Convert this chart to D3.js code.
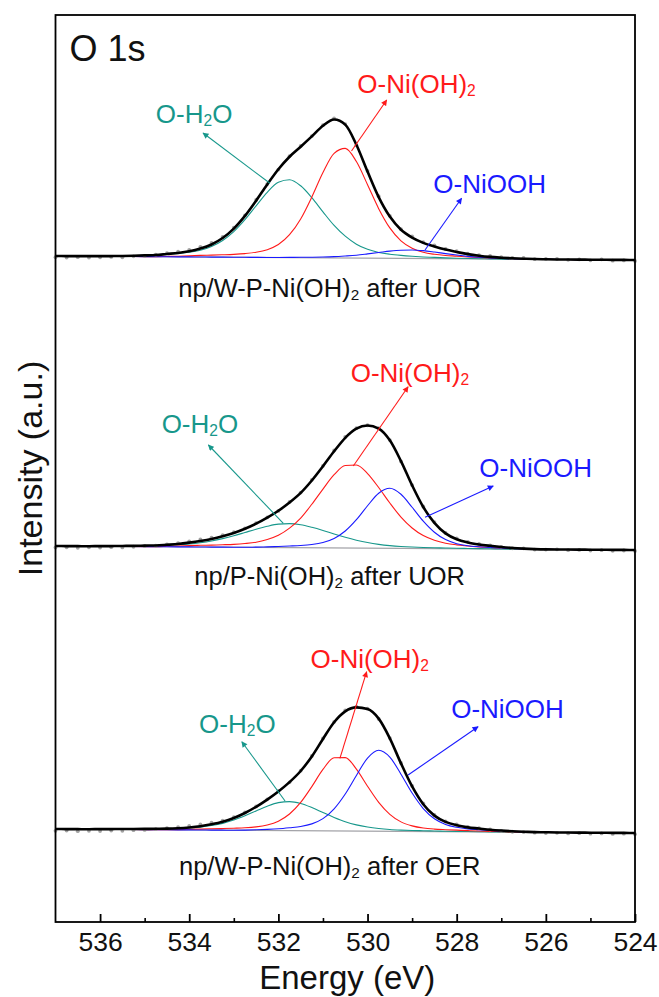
<!DOCTYPE html>
<html>
<head>
<meta charset="utf-8">
<script src="https://cdn.jsdelivr.net/npm/d3@7"></script>
<style>
  body { margin: 0; background: #fff; }
  svg { display: block; }
  text { font-family: "Liberation Sans", Arial, Helvetica, sans-serif; }
</style>
</head>
<body>
<svg id="chart" width="659" height="997"></svg>
<script>
// ---- O 1s XPS data (binding energy in eV, intensity in a.u.) ----
const energy = [
  537, 536.75, 536.5, 536.25, 536, 535.75, 535.5, 535.25,
  535, 534.75, 534.5, 534.25, 534, 533.75, 533.5, 533.25,
  533, 532.75, 532.5, 532.25, 532, 531.75, 531.5, 531.25,
  531, 530.75, 530.5, 530.25, 530, 529.75, 529.5, 529.25,
  529, 528.75, 528.5, 528.25, 528, 527.75, 527.5, 527.25,
  527, 526.75, 526.5, 526.25, 526, 525.75, 525.5, 525.25,
  525, 524.75, 524.5, 524.25, 524
];

const sampleNames = [
  "np/W-P-Ni(OH)₂ after UOR",
  "np/P-Ni(OH)₂ after UOR",
  "np/W-P-Ni(OH)₂ after OER"
];
const componentNames = ["O-H₂O", "O-Ni(OH)₂", "O-NiOOH"];

// Linear background: intensity at 537 eV above the 524 eV level
const backgroundRise = [4, 4, 4];

// np/W-P-Ni(OH)2 after UOR
const wpUor_H2O = [
  0, 0, 0, 0.1, 0.2, 0.3, 0.5, 0.8,
  1.2, 1.7, 2.5, 3.3, 4.6, 6.8, 10.6, 16.7,
  25.7, 37.7, 51.6, 65.2, 75.2, 77.8, 71.9, 60.1,
  46.0, 32.5, 21.8, 13.9, 8.8, 5.8, 4.1, 3.0,
  2.2, 1.6, 1.2, 0.8, 0.5, 0.3, 0.2, 0.1,
  0, 0, 0, 0, 0, 0, 0, 0,
  0, 0, 0, 0, 0
];
const wpUor_NiOH2 = [
  0, 0, 0, 0, 0, 0, 0, 0,
  0, 0, 0.3, 0.6, 1.0, 1.6, 2.0, 2.4,
  2.9, 3.7, 5.1, 7.8, 13.0, 22.9, 38.7, 60.7,
  85.3, 104.6, 109.6, 96.5, 73.5, 49.6, 30.4, 17.5,
  10.2, 6.2, 4.3, 3.2, 2.6, 1.9, 1.4, 1.0,
  0.7, 0.4, 0.2, 0.1, 0, 0, 0, 0,
  0, 0, 0, 0, 0
];
const wpUor_NiOOH = [
  0, 0, 0, 0, 0, 0, 0, 0,
  0, 0, 0, 0, 0, 0, 0, 0,
  0, 0, 0, 0, 0.1, 0.2, 0.4, 0.55,
  0.8, 1.25, 2.0, 2.9, 4.25, 5.7, 7.2, 8.2,
  8.5, 7.9, 6.6, 5.1, 3.7, 2.5, 1.6, 1.0,
  0.7, 0.45, 0.3, 0.2, 0.1, 0, 0, 0,
  0, 0, 0, 0, 0
];
const wpUor_residual = [
  -1.2, -1.5, -1.0, -1.4, -1.2, -0.8, -1.3, -0.6,
  -0.5, 0.3, 0.8, 1.2, 1.5, 1.8, 1.6, 1.2,
  1.0, 0.5, 0.8, 0.4, -0.3, 0.5, 0.8, 0.3,
  0.6, 1.2, 0.5, -0.4, 0.6, 1.0, 0.8, 0.5,
  1.2, 0.8, 1.0, 0.6, 0.8, 0.4, 0.6, 0.9,
  0.5, 0.3, 0.8, -0.2, 0.4, 0.6, -0.3, 0.2,
  -0.6, 0.4, -0.8, -0.5, -1.0
];

// np/P-Ni(OH)2 after UOR
const pUor_H2O = [
  0, 0, 0, 0, 0.2, 0.3, 0.5, 0.7,
  1.0, 1.2, 1.6, 2.1, 3.0, 4.3, 6.1, 8.5,
  11.4, 14.8, 18.2, 21.2, 23.4, 24.0, 23.0, 20.5,
  17.4, 13.9, 10.7, 7.9, 5.6, 3.9, 2.7, 1.9,
  1.4, 1.1, 0.9, 0.7, 0.5, 0.4, 0.3, 0.2,
  0.1, 0, 0, 0, 0, 0, 0, 0,
  0, 0, 0, 0, 0
];
const pUor_NiOH2 = [
  0, 0, 0, 0, 0, 0, 0, 0,
  0, 0, 0.4, 0.8, 1.3, 1.7, 2.0, 2.4,
  2.9, 3.8, 5.2, 8.0, 12.3, 19.5, 29.6, 43.5,
  58.8, 73.2, 82.5, 83.1, 74.6, 60.7, 45.3, 31.3,
  20.5, 13.0, 8.4, 5.5, 3.9, 2.9, 2.0, 1.5,
  1.0, 0.6, 0.3, 0.1, 0, 0, 0, 0,
  0, 0, 0, 0, 0
];
const pUor_NiOOH = [
  0, 0, 0, 0, 0, 0, 0, 0,
  0, 0, 0, 0, 0, 0, 0, 0,
  0, 0, 0.3, 0.6, 1.1, 1.6, 2.2, 3.3,
  5.4, 9.5, 17.0, 28.4, 42.4, 55.0, 60.0, 54.1,
  41.2, 27.4, 16.4, 9.1, 5.1, 3.1, 2.2, 1.5,
  1.0, 0.6, 0.3, 0.1, 0, 0, 0, 0,
  0, 0, 0, 0, 0
];
const pUor_residual = [
  -1.5, -1.2, -1.6, -1.0, -1.4, -1.1, -1.5, -0.9,
  -0.6, -0.2, 0.4, 0.9, 1.3, 1.6, 1.4, 1.0,
  0.8, 0.4, 0.6, 0.2, -0.2, 0.5, 0.3, 0.6,
  0.4, 0.8, 1.0, 0.5, 0.3, 0.6, 0.2, -0.3,
  0.3, 0.6, 0.8, 0.5, 0.9, 0.6, 0.4, 0.5,
  0.2, -0.3, 0.3, -0.5, -0.2, 0.1, -0.6, -0.3,
  -0.8, -0.4, -1.0, -0.6, -0.9
];

// np/W-P-Ni(OH)2 after OER
const wpOer_H2O = [
  0, 0, 0, 0, 0.2, 0.3, 0.5, 0.6,
  0.7, 0.9, 1.1, 1.4, 2.0, 2.9, 4.5, 6.8,
  10.2, 14.6, 19.5, 24.3, 27.9, 29.0, 27.2, 23.2,
  18.3, 13.5, 9.3, 6.2, 4.1, 2.7, 1.8, 1.3,
  1.0, 0.8, 0.6, 0.5, 0.4, 0.3, 0.2, 0.1,
  0, 0, 0, 0, 0, 0, 0, 0,
  0, 0, 0, 0, 0
];
const wpOer_NiOH2 = [
  0, 0, 0, 0, 0, 0, 0, 0,
  0, 0, 0, 0.2, 0.5, 0.9, 1.3, 1.6,
  2.0, 2.5, 3.5, 5.5, 9.4, 16.6, 28.3, 44.2,
  61.4, 73.1, 73.4, 61.9, 44.9, 28.9, 17.0, 9.5,
  5.6, 3.5, 2.5, 2.0, 1.6, 1.2, 0.9, 0.6,
  0.4, 0.2, 0.1, 0, 0, 0, 0, 0,
  0, 0, 0, 0, 0
];
const wpOer_NiOOH = [
  0, 0, 0, 0, 0, 0, 0, 0,
  0, 0, 0, 0, 0, 0, 0, 0,
  0, 0.2, 0.6, 1.1, 1.8, 2.9, 4.2, 6.9,
  12.2, 22.1, 37.0, 55.6, 73.1, 81.0, 74.2, 57.2,
  38.4, 23.0, 12.9, 7.3, 4.5, 3.0, 2.3, 1.6,
  1.1, 0.7, 0.4, 0.2, 0.1, 0, 0, 0,
  0, 0, 0, 0, 0
];
const wpOer_residual = [
  -1.8, -1.4, -2.0, -1.6, -1.9, -1.5, -1.8, -1.2,
  -1.0, -0.4, 0.5, 1.0, 1.4, 1.8, 1.6, 1.2,
  1.0, 0.6, 0.4, 0.2, 0.5, -0.2, 0.3, 0.5,
  0.6, 0.3, 1.0, 0.8, 0.4, -0.3, 0.2, 0.5,
  0.6, 0.9, 0.7, 0.4, 0.8, 0.5, 0.3, 0.2,
  -0.2, -0.5, -0.3, -0.6, -0.8, -0.4, -0.9, -0.6,
  -1.0, -0.7, -1.1, -0.8, -1.2
];

const majorTicks = [536, 534, 532, 530, 528, 526, 524];
const minorTicks = [535, 533, 531, 529, 527, 525];

// ---- layout ----
const W = 659, H = 997;
const plot = { left: 55.5, right: 635, top: 15, bottom: 922 };
const panelOffset = [662, 372, 89];           // vertical stacking of the spectra
const colors = { h2o: "#17978b", ni: "#ff1a1a", niooh: "#1a1aff", fit: "#000", bg: "#a3a3a8", raw: "#9a9a9a" };

// Callout positions in data units: [energy, intensity]
const callouts = [
  { label: [533.89, 799], tail: [532.19, 738.7], head: [533.69, 789],   // panel 1
    redLabel: [528.90, 829], redTail: [530.36, 771], redHead: [529.57, 822],
    blueLabel: [527.26, 728.7], blueTail: [528.71, 672], blueHead: [527.89, 723.7],
    sample: [530.85, 625] },
  { label: [533.76, 488.7], tail: [531.89, 398.7], head: [533.57, 477],  // panel 2
    redLabel: [529.05, 540.3], redTail: [530.32, 456], redHead: [529.09, 535.3],
    blueLabel: [526.23, 445.3], blueTail: [528.71, 404.7], blueHead: [527.18, 436],
    sample: [530.85, 337] },
  { label: [532.92, 188.7], tail: [531.85, 121], head: [532.82, 180.3],  // panel 3
    redLabel: [529.95, 253.7], redTail: [530.62, 163.7], redHead: [530.02, 250.3],
    blueLabel: [526.86, 203.7], blueTail: [529.09, 147], blueHead: [527.52, 195.3],
    sample: [530.85, 47] }
];

const panels = [
  { name: sampleNames[0], comps: [wpUor_H2O, wpUor_NiOH2, wpUor_NiOOH], resid: wpUor_residual },
  { name: sampleNames[1], comps: [pUor_H2O, pUor_NiOH2, pUor_NiOOH], resid: pUor_residual },
  { name: sampleNames[2], comps: [wpOer_H2O, wpOer_NiOH2, wpOer_NiOOH], resid: wpOer_residual }
];

// ---- scales ----
const x = d3.scaleLinear().domain([537, 524]).range([plot.left, plot.right]);
const y = d3.scaleLinear().domain([0, plot.bottom - plot.top]).range([plot.bottom, plot.top]);

const svg = d3.select("#chart");
svg.append("rect").attr("width", W).attr("height", H).attr("fill", "#fff");

// arrowhead markers
const defs = svg.append("defs");
[["h2o", colors.h2o], ["ni", colors.ni], ["niooh", colors.niooh]].forEach(([k, c]) => {
  defs.append("marker")
    .attr("id", "arrow-" + k)
    .attr("viewBox", "0 0 10 10")
    .attr("refX", 9).attr("refY", 5)
    .attr("markerWidth", 7).attr("markerHeight", 6)
    .attr("markerUnits", "userSpaceOnUse")
    .attr("orient", "auto")
    .append("path").attr("d", "M0,0 L10,5 L0,10 z").attr("fill", c);
});

// text with a lowered small "2" for the subscript character
function subText(sel, str, size) {
  const parts = str.split("₂");
  parts.forEach((p, i) => {
    if (p.length) sel.append("tspan").text(p).attr("dy", i > 0 ? -size * 0.12 : null);
    if (i < parts.length - 1) {
      sel.append("tspan").text("2").attr("font-size", size * 0.6).attr("dy", size * 0.12);
    }
  });
}

const bgAt = (k, e) => backgroundRise[k] * (e - 524) / (537 - 524);
const line = d3.line().x(d => x(d[0])).y(d => y(d[1])).curve(d3.curveMonotoneX);

const g = svg.append("g");

panels.forEach((p, k) => {
  const off = panelOffset[k];
  // background
  g.append("line")
    .attr("x1", x(537)).attr("y1", y(off + bgAt(k, 537)))
    .attr("x2", x(524)).attr("y2", y(off + bgAt(k, 524)))
    .attr("stroke", colors.bg).attr("stroke-width", 1.2);

  // fitted components
  const compColors = [colors.h2o, colors.ni, colors.niooh];
  p.comps.forEach((arr, j) => {
    const pts = energy.map((e, i) => [e, off + bgAt(k, e) + arr[i]]);
    g.append("path").attr("d", line(pts))
      .attr("fill", "none").attr("stroke", compColors[j]).attr("stroke-width", 1.1);
  });

  // fit envelope and measured points
  const fit = energy.map((e, i) => bgAt(k, e) + p.comps[0][i] + p.comps[1][i] + p.comps[2][i]);
  g.append("g").selectAll("circle")
    .data(energy.map((e, i) => [e, off + fit[i] + p.resid[i]]))
    .join("circle")
    .attr("cx", d => x(d[0])).attr("cy", d => y(d[1]))
    .attr("r", 1.9).attr("fill", colors.raw).attr("opacity", 0.9);
  g.append("path").attr("d", line(energy.map((e, i) => [e, off + fit[i]])))
    .attr("fill", "none").attr("stroke", colors.fit).attr("stroke-width", 2.6);

  // callouts
  const c = callouts[k];
  const arrows = [
    [c.tail, c.head, "h2o", colors.h2o, c.label, componentNames[0]],
    [c.redTail, c.redHead, "ni", colors.ni, c.redLabel, componentNames[1]],
    [c.blueTail, c.blueHead, "niooh", colors.niooh, c.blueLabel, componentNames[2]]
  ];
  arrows.forEach(([t, h, id, col, lab, name]) => {
    g.append("line")
      .attr("x1", x(t[0])).attr("y1", y(t[1]))
      .attr("x2", x(h[0])).attr("y2", y(h[1]))
      .attr("stroke", col).attr("stroke-width", 1.1)
      .attr("marker-end", `url(#arrow-${id})`);
    const tx = g.append("text")
      .attr("x", x(lab[0])).attr("y", y(lab[1]))
      .attr("text-anchor", "middle").attr("font-size", 26).attr("fill", col);
    subText(tx, name, 26);
  });

  const st = g.append("text")
    .attr("x", x(c.sample[0])).attr("y", y(c.sample[1]))
    .attr("text-anchor", "middle").attr("font-size", 25.5).attr("fill", "#111");
  subText(st, p.name, 25.5);
});

// ---- frame and axes ----
svg.append("rect")
  .attr("x", plot.left).attr("y", plot.top)
  .attr("width", plot.right - plot.left).attr("height", plot.bottom - plot.top)
  .attr("fill", "none").attr("stroke", "#000").attr("stroke-width", 1.8);

const xAxis = svg.append("g").attr("transform", `translate(0,${plot.bottom})`)
  .call(d3.axisBottom(x).tickValues(majorTicks).tickSize(-8).tickPadding(10).tickFormat(d3.format("d")));
xAxis.select(".domain").remove();
xAxis.selectAll("line").attr("stroke-width", 1.8);
xAxis.selectAll("text").attr("font-size", 26.5).attr("fill", "#111")
  .attr("font-family", '"Liberation Sans", Arial, sans-serif');

const xMinor = svg.append("g").attr("transform", `translate(0,${plot.bottom})`)
  .call(d3.axisBottom(x).tickValues(minorTicks).tickSize(-4).tickFormat(""));
xMinor.select(".domain").remove();
xMinor.selectAll("line").attr("stroke-width", 1.6);

svg.append("text")
  .attr("x", (plot.left + plot.right) / 2 + 2).attr("y", 989)
  .attr("text-anchor", "middle").attr("font-size", 33).attr("fill", "#111")
  .text("Energy (eV)");

svg.append("text")
  .attr("transform", `translate(42,${(plot.top + plot.bottom) / 2}) rotate(-90)`)
  .attr("text-anchor", "middle").attr("font-size", 34).attr("fill", "#111")
  .text("Intensity (a.u.)");

svg.append("text")
  .attr("x", plot.left + 14).attr("y", 61)
  .attr("font-size", 36).attr("fill", "#111")
  .text("O 1s");
</script>
</body>
</html>
